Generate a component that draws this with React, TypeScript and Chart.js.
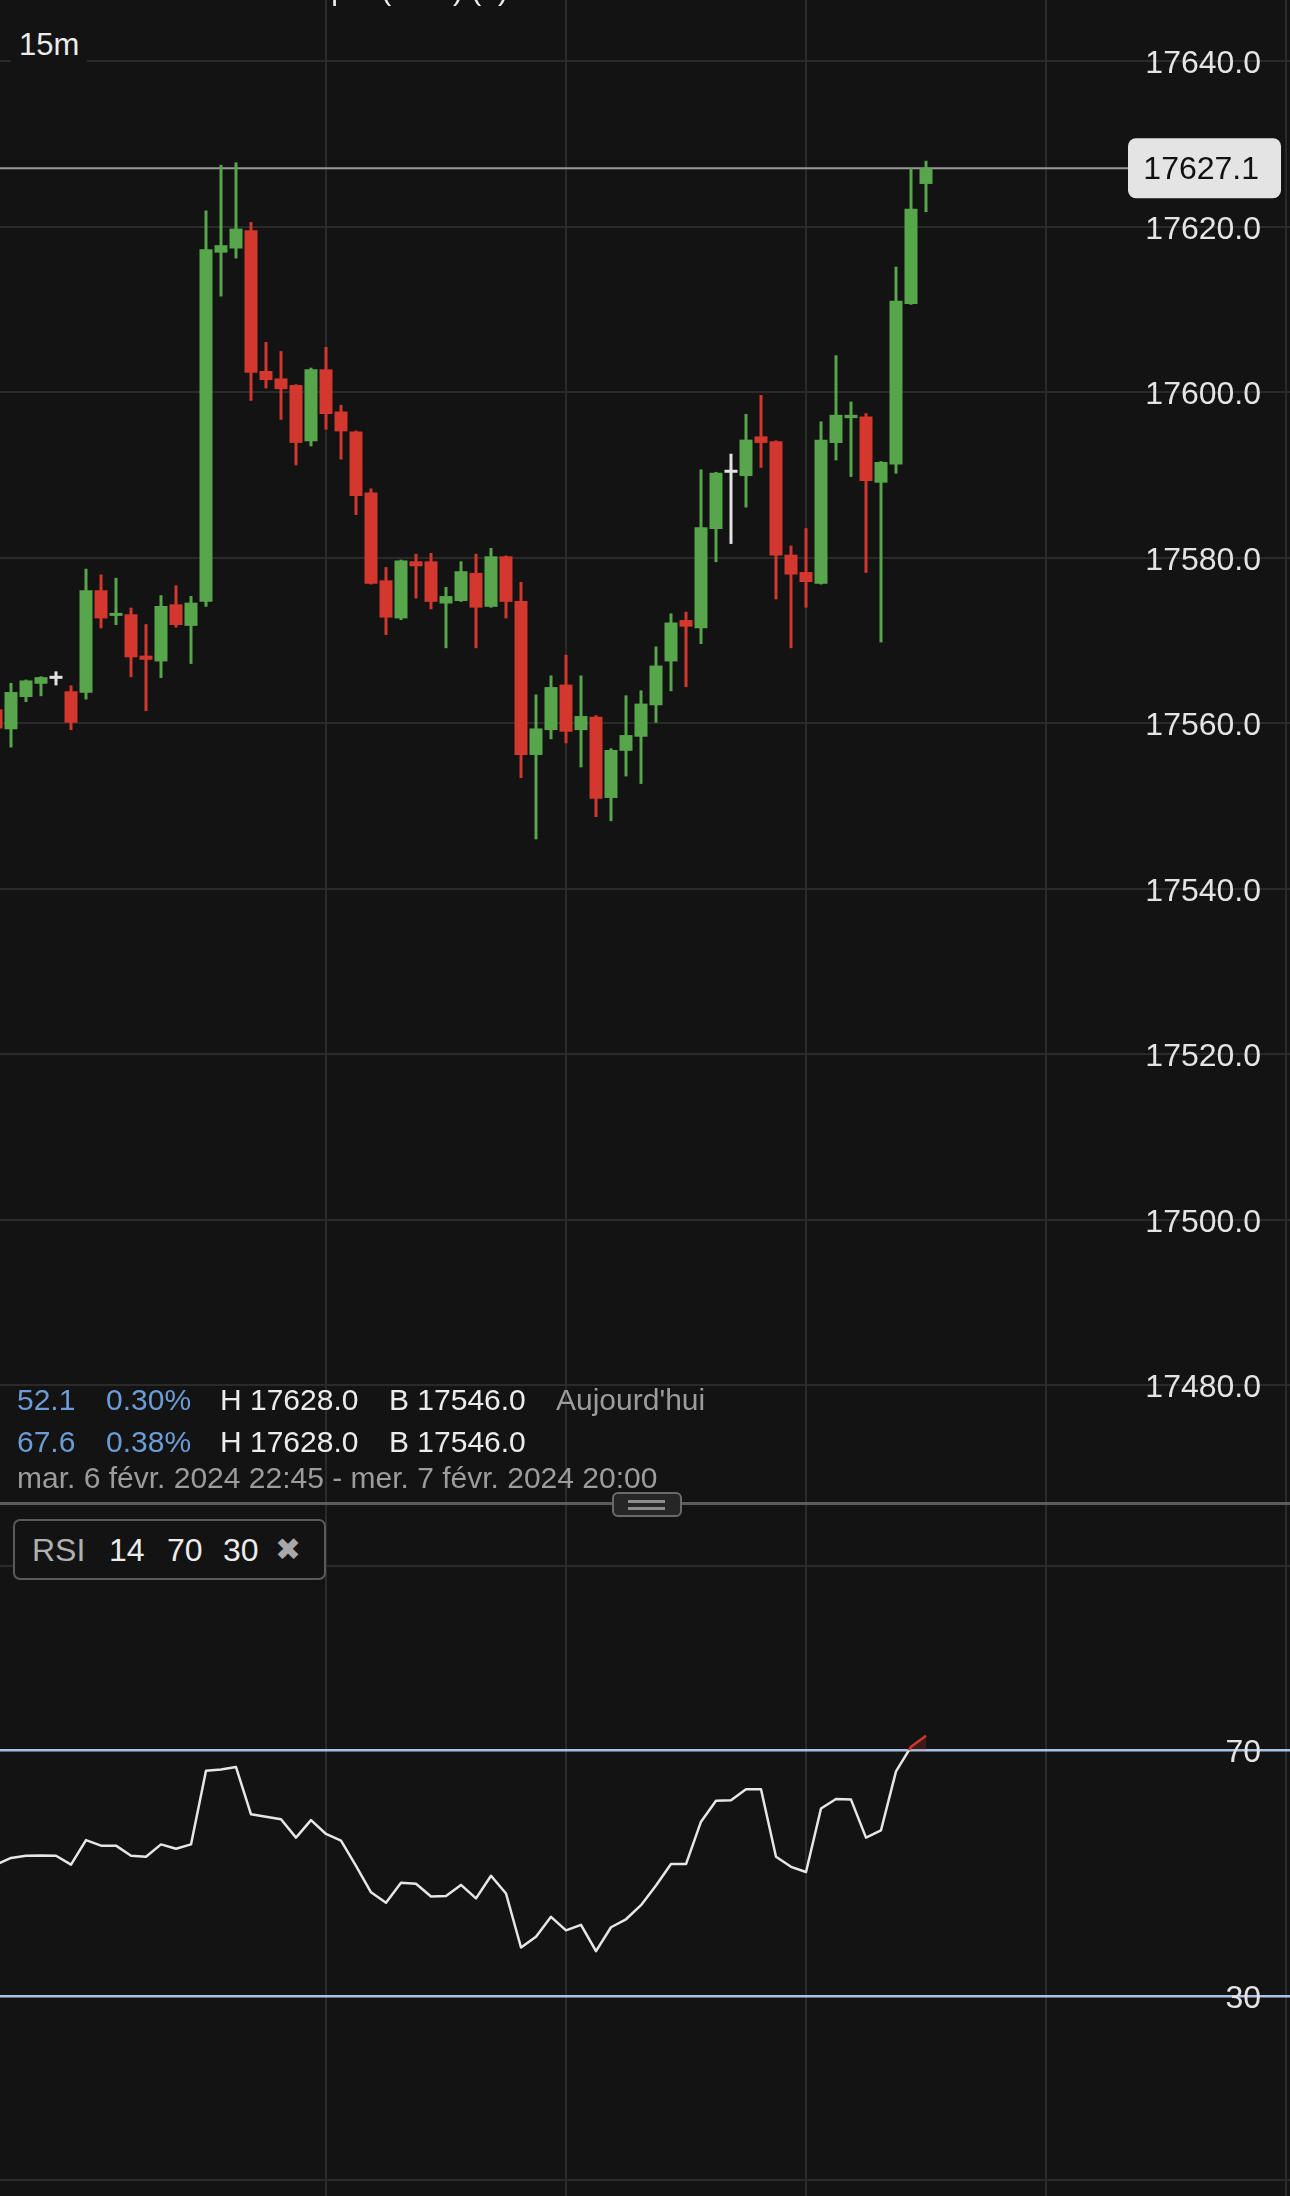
import React, { useEffect, useRef } from "react";
import { Chart, registerables } from "chart.js";

// ---- clip plugin (registered before the Filler so fills are clipped too)
const levelClipPlugin = {
  id: "levelClip",
  beforeDatasetDraw(chart: any, args: any) {
    const ds: any = chart.data.datasets[args.index];
    if (!ds || !ds.clipSide) return;
    const y = chart.scales.y.getPixelForValue(ds.clipLevel);
    const { ctx, chartArea: a } = chart;
    ctx.save();
    ctx.beginPath();
    if (ds.clipSide === "above") ctx.rect(a.left, a.top, a.right - a.left, y - a.top);
    else ctx.rect(a.left, y, a.right - a.left, a.bottom - y);
    ctx.clip();
  },
  afterDatasetDraw(chart: any, args: any) {
    const ds: any = chart.data.datasets[args.index];
    if (!ds || !ds.clipSide) return;
    chart.ctx.restore();
  },
};
Chart.register(levelClipPlugin as any);
Chart.register(...registerables);

// ---------------- DATA ----------------
const opens = [
  17561.7, 17559.3, 17563.2, 17564.8, 17565.4, 17563.9, 17563.7, 17576.1, 17573.0, 17573.2,
  17568.2, 17567.5, 17574.4, 17571.8, 17574.7, 17616.9, 17617.4, 17619.6, 17602.6, 17601.7,
  17600.9, 17594.1, 17602.8, 17597.7, 17595.3, 17587.9, 17577.3, 17572.7, 17579.6, 17579.6,
  17574.5, 17574.8, 17578.2, 17574.1, 17580.2, 17574.8, 17556.2, 17559.2, 17564.7, 17559.2,
  17560.8, 17551.0, 17556.7, 17558.4, 17562.2, 17567.5, 17572.5, 17571.5, 17583.5, 17590.3,
  17589.9, 17594.7, 17594.1, 17580.4, 17578.3, 17576.9, 17593.9, 17596.9, 17597.1, 17589.1,
  17591.3, 17610.7, 17625.2,
];
const highs = [
  17562.6, 17564.9, 17565.3, 17565.7, 17566.3, 17564.6, 17578.7, 17578.0, 17577.6, 17574.0,
  17572.0, 17575.5, 17576.7, 17575.4, 17622.0, 17627.5, 17627.8, 17620.6, 17606.1, 17605.0,
  17601.0, 17603.0, 17605.5, 17598.5, 17595.4, 17588.4, 17578.9, 17579.8, 17580.5, 17580.6,
  17576.5, 17579.6, 17580.5, 17581.2, 17580.3, 17577.1, 17563.5, 17565.8, 17568.3, 17565.8,
  17561.0, 17557.0, 17563.4, 17564.0, 17569.3, 17573.3, 17573.5, 17590.7, 17590.4, 17592.6,
  17597.4, 17599.7, 17594.2, 17581.5, 17583.6, 17596.5, 17604.5, 17598.9, 17597.5, 17591.7,
  17615.2, 17627.1, 17628.0,
];
const lows = [
  17558.6, 17557.1, 17562.6, 17563.3, 17564.6, 17559.2, 17562.9, 17571.5, 17571.9, 17565.6,
  17561.5, 17565.5, 17571.6, 17567.2, 17574.1, 17611.6, 17616.2, 17599.0, 17600.5, 17596.7,
  17591.2, 17593.5, 17595.5, 17591.9, 17585.2, 17576.8, 17570.7, 17572.5, 17575.1, 17573.8,
  17569.1, 17574.7, 17569.1, 17574.0, 17572.7, 17553.4, 17546.0, 17558.1, 17557.6, 17554.7,
  17548.7, 17548.2, 17553.6, 17552.7, 17560.1, 17563.9, 17564.4, 17569.6, 17579.5, 17581.7,
  17586.1, 17590.9, 17575.0, 17569.1, 17574.0, 17576.8, 17591.8, 17589.8, 17578.2, 17569.8,
  17590.2, 17610.6, 17621.8,
];
const closes = [
  17559.4, 17563.8, 17565.2, 17565.6, 17565.4, 17560.1, 17576.1, 17572.7, 17573.2, 17568.0,
  17567.7, 17574.2, 17571.9, 17574.6, 17617.3, 17617.8, 17619.8, 17602.4, 17601.5, 17600.4,
  17593.9, 17602.8, 17597.4, 17595.3, 17587.5, 17576.9, 17572.8, 17579.7, 17579.0, 17574.7,
  17575.4, 17578.4, 17574.0, 17580.2, 17574.7, 17556.2, 17559.4, 17564.4, 17559.0, 17560.9,
  17550.9, 17556.8, 17558.6, 17562.4, 17567.0, 17572.2, 17571.7, 17583.7, 17590.3, 17590.3,
  17594.3, 17593.9, 17580.3, 17578.0, 17577.1, 17594.3, 17597.3, 17597.3, 17589.3, 17591.6,
  17611.1, 17622.2, 17627.1,
];
const rsiValues = [
  51.4, 52.5, 52.85, 52.9, 52.85, 51.4, 55.4, 54.5, 54.5, 52.85,
  52.7, 54.7, 54.0, 54.7, 66.7, 66.9, 67.3, 59.6, 59.2, 58.8,
  55.8, 58.65, 56.4, 55.3, 51.2, 46.9, 45.2, 48.45, 48.3, 46.2,
  46.3, 48.1, 45.9, 49.6, 46.7, 37.9, 39.65, 42.9, 40.7, 41.6,
  37.3, 41.2, 42.5, 44.8, 48.0, 51.5, 51.5, 58.4, 61.8, 61.9,
  63.7, 63.7, 52.7, 51.05, 50.2, 60.55, 62.1, 62.0, 55.8, 57.0,
  66.6, 70.6, 72.4,
];
const priceTicks = [17480, 17500, 17520, 17540, 17560, 17580, 17600, 17620, 17640];
const rsiTicks = [0, 30, 70, 100];
const rsiLevels = [30, 70];
const timeGridIndex = [22, 38, 54, 70, 86];
const dayHigh = 17628.0;
const dayLow = 17546.0;

// ---------------- STYLE ----------------
const BG = "#131313";
const GRID = "#2a2a2a";
const UP = "#58a64b";
const DOWN = "#d3372d";
const FLAT = "#e2e2e2";
const LEVEL = "#a9c3e6";
const FONT = '"Liberation Sans", Arial, Helvetica, sans-serif';

const W = 1290;
const MAIN_H = 1503;
const RSI_TOP = 1503;
const RSI_H = 2196 - 1503;
const X_MIN = 4 / 15;
const X_MAX = 1294 / 15;
const PRICE_MIN = 17465.8;
const PRICE_MAX = 17647.43;
const RSI_MIN = -2.59;
const RSI_MAX = 110.33;

const candleColors = closes.map((c, i) => (c > opens[i] ? UP : c < opens[i] ? DOWN : FLAT));
const lastPrice = closes[closes.length - 1];

function xAxis() {
  return {
    type: "linear",
    min: X_MIN,
    max: X_MAX,
    offset: false,
    afterFit: (s: any) => {
      s.height = 0;
    },
    afterBuildTicks: (s: any) => {
      s.ticks = timeGridIndex.map((v) => ({ value: v }));
    },
    ticks: { display: false },
    grid: { color: GRID, lineWidth: 2, drawTicks: false, offset: false },
    border: { display: false },
  };
}

const lastPricePlugin = {
  id: "lastPrice",
  beforeDatasetsDraw(chart: any) {
    const { ctx } = chart;
    const y = chart.scales.y.getPixelForValue(lastPrice);
    ctx.save();
    ctx.strokeStyle = "#9a9a9a";
    ctx.lineWidth = 2;
    ctx.beginPath();
    ctx.moveTo(0, y);
    ctx.lineTo(1130, y);
    ctx.stroke();
    ctx.restore();
  },
  afterDraw(chart: any) {
    const { ctx } = chart;
    const y = chart.scales.y.getPixelForValue(lastPrice);
    ctx.save();
    ctx.fillStyle = "#e4e4e4";
    ctx.beginPath();
    (ctx as any).roundRect(1128, y - 30, 153, 60, 8);
    ctx.fill();
    ctx.fillStyle = "#111111";
    ctx.font = `32px ${FONT}`;
    ctx.textAlign = "right";
    ctx.textBaseline = "middle";
    ctx.fillText(lastPrice.toFixed(1), 1259, y + 2);
    ctx.restore();
  },
};

function Txt(props: {
  x: number;
  cy: number;
  size: number;
  color: string;
  children: any;
  weight?: number;
  family?: string;
}) {
  const { x, cy, size, color, children, weight, family } = props;
  return (
    <div
      style={{
        position: "absolute",
        left: x,
        top: cy - 0.4885 * size,
        fontSize: size,
        lineHeight: 1,
        color,
        fontFamily: family || FONT,
        fontWeight: weight || 400,
        whiteSpace: "nowrap",
      }}
    >
      {children}
    </div>
  );
}

export default function App() {
  const mainRef = useRef<HTMLCanvasElement | null>(null);
  const rsiRef = useRef<HTMLCanvasElement | null>(null);

  useEffect(() => {
    document.body.style.margin = "0";
    document.body.style.background = BG;

    const bodyData = opens.map((o, i) => ({ x: i, y: [o, closes[i]] }));
    const wickData = lows.map((l, i) => ({ x: i, y: [l, highs[i]] }));

    const main = new Chart(mainRef.current as HTMLCanvasElement, {
      type: "bar",
      data: {
        datasets: [
          {
            label: "body",
            data: bodyData as any,
            backgroundColor: candleColors,
            borderWidth: 0,
            barPercentage: 13 / 15,
            categoryPercentage: 1,
            grouped: false,
            minBarLength: 3,
          } as any,
          {
            label: "wick",
            data: wickData as any,
            backgroundColor: candleColors,
            borderWidth: 0,
            barPercentage: 0.2,
            categoryPercentage: 1,
            grouped: false,
          } as any,
        ],
      },
      options: {
        animation: false,
        responsive: false,
        devicePixelRatio: 1,
        events: [],
        layout: { padding: 0 },
        plugins: { legend: { display: false }, tooltip: { enabled: false } },
        scales: {
          x: xAxis() as any,
          y: {
            type: "linear",
            position: "right",
            min: PRICE_MIN,
            max: PRICE_MAX,
            afterFit: (s: any) => {
              s.width = 0;
            },
            afterBuildTicks: (s: any) => {
              s.ticks = priceTicks.map((v) => ({ value: v }));
            },
            grid: { color: GRID, lineWidth: 2, drawTicks: false },
            border: { display: false },
            ticks: {
              mirror: true,
              padding: -29,
              labelOffset: 3,
              color: "#e4e4e4",
              font: { family: FONT, size: 32 },
              callback: (v: any) => Number(v).toFixed(1),
            },
          } as any,
        },
      },
      plugins: [lastPricePlugin as any],
    });

    const rsiPts = rsiValues.map((v, i) => ({ x: i, y: v }));
    const rsi = new Chart(rsiRef.current as HTMLCanvasElement, {
      type: "line",
      data: {
        datasets: [
          {
            data: rsiPts,
            borderColor: "#e6e6e6",
            borderWidth: 2.5,
            pointRadius: 0,
            tension: 0,
            fill: false,
            borderJoinStyle: "round",
            clipSide: "below",
            clipLevel: 70,
          } as any,
          {
            data: rsiPts,
            borderColor: "#d0362c",
            borderWidth: 2.5,
            pointRadius: 0,
            tension: 0,
            fill: { value: 70 },
            backgroundColor: "rgba(208,54,44,0.22)",
            borderJoinStyle: "round",
            clipSide: "above",
            clipLevel: 70,
          } as any,
        ],
      },
      options: {
        animation: false,
        responsive: false,
        devicePixelRatio: 1,
        events: [],
        layout: { padding: 0 },
        plugins: { legend: { display: false }, tooltip: { enabled: false } },
        scales: {
          x: xAxis() as any,
          y: {
            type: "linear",
            position: "right",
            min: RSI_MIN,
            max: RSI_MAX,
            afterFit: (s: any) => {
              s.width = 0;
            },
            afterBuildTicks: (s: any) => {
              s.ticks = rsiTicks.map((v) => ({ value: v }));
            },
            grid: {
              drawTicks: false,
              color: (c: any) => (rsiLevels.includes(c.tick && c.tick.value) ? LEVEL : GRID),
              lineWidth: (c: any) => (rsiLevels.includes(c.tick && c.tick.value) ? 2.5 : 2),
            },
            border: { display: false },
            ticks: {
              mirror: true,
              padding: -29,
              labelOffset: 3,
              color: "#e4e4e4",
              font: { family: FONT, size: 32 },
              callback: (v: any) => (rsiLevels.includes(Number(v)) ? String(v) : ""),
            },
          } as any,
        },
      },
    });

    return () => {
      main.destroy();
      rsi.destroy();
    };
  }, []);

  const blue = "#6c9cd6";
  const white = "#ececec";
  const gray = "#9c9c9c";
  const LS = 30;

  return (
    <div
      style={{
        position: "absolute",
        left: 0,
        top: 0,
        width: W,
        height: 2196,
        overflow: "hidden",
        background: BG,
        fontFamily: FONT,
      }}
    >
      <canvas
        ref={mainRef}
        width={W}
        height={MAIN_H}
        style={{ position: "absolute", left: 0, top: 0, width: W, height: MAIN_H }}
      />
      <canvas
        ref={rsiRef}
        width={W}
        height={RSI_H}
        style={{ position: "absolute", left: 0, top: RSI_TOP, width: W, height: RSI_H }}
      />

      {/* cut-off title at the very top */}
      <div
        style={{
          position: "absolute",
          left: 108,
          width: 400,
          top: -25,
          fontSize: 30,
          lineHeight: 1,
          textAlign: "right",
          color: white,
          whiteSpace: "nowrap",
        }}
      >
        DE40 Spot (CFD) (€)
      </div>

      {/* timeframe label */}
      <div
        style={{
          position: "absolute",
          left: 11,
          top: 26,
          width: 76,
          height: 38,
          background: BG,
        }}
      />
      <Txt x={19} cy={44.5} size={31} color={white}>
        15m
      </Txt>

      {/* legend rows */}
      <Txt x={17} cy={1399.7} size={LS} color={blue}>52.1</Txt>
      <Txt x={106} cy={1399.7} size={LS} color={blue}>0.30%</Txt>
      <Txt x={220} cy={1399.7} size={LS} color={white}>H {dayHigh.toFixed(1)}</Txt>
      <Txt x={389} cy={1399.7} size={LS} color={white}>B {dayLow.toFixed(1)}</Txt>
      <Txt x={556} cy={1399.7} size={LS} color={gray}>Aujourd'hui</Txt>

      <Txt x={17} cy={1441.3} size={LS} color={blue}>67.6</Txt>
      <Txt x={106} cy={1441.3} size={LS} color={blue}>0.38%</Txt>
      <Txt x={220} cy={1441.3} size={LS} color={white}>H {dayHigh.toFixed(1)}</Txt>
      <Txt x={389} cy={1441.3} size={LS} color={white}>B {dayLow.toFixed(1)}</Txt>

      <Txt x={17} cy={1477.5} size={LS} color={gray}>
        mar. 6 févr. 2024 22:45 - mer. 7 févr. 2024 20:00
      </Txt>

      {/* pane separator */}
      <div
        style={{
          position: "absolute",
          left: 0,
          top: 1502,
          width: W,
          height: 3,
          background: "#5c5c5c",
        }}
      />
      <div
        style={{
          position: "absolute",
          left: 612,
          top: 1492,
          width: 70,
          height: 25,
          boxSizing: "border-box",
          border: "2.5px solid #6a6a6a",
          borderRadius: 6,
          background: "#262626",
        }}
      >
        <div style={{ position: "absolute", left: 14, top: 6, width: 37, height: 2.5, background: "#8c8c8c" }} />
        <div style={{ position: "absolute", left: 14, top: 13, width: 37, height: 2.5, background: "#8c8c8c" }} />
      </div>

      {/* RSI badge */}
      <div
        style={{
          position: "absolute",
          left: 13,
          top: 1519,
          width: 313,
          height: 61,
          boxSizing: "border-box",
          border: "2.5px solid #5a5a5a",
          borderRadius: 7,
          background: BG,
        }}
      />
      <Txt x={32} cy={1550} size={32} color="#b0b0b0">RSI</Txt>
      <Txt x={109} cy={1550} size={32} color={white}>14</Txt>
      <Txt x={167} cy={1550} size={32} color={white}>70</Txt>
      <Txt x={223} cy={1550} size={32} color={white}>30</Txt>
      <Txt x={275} cy={1549} size={31} color="#a8a8a8" family='"DejaVu Sans", sans-serif' weight={700}>
        ✖
      </Txt>
    </div>
  );
}
